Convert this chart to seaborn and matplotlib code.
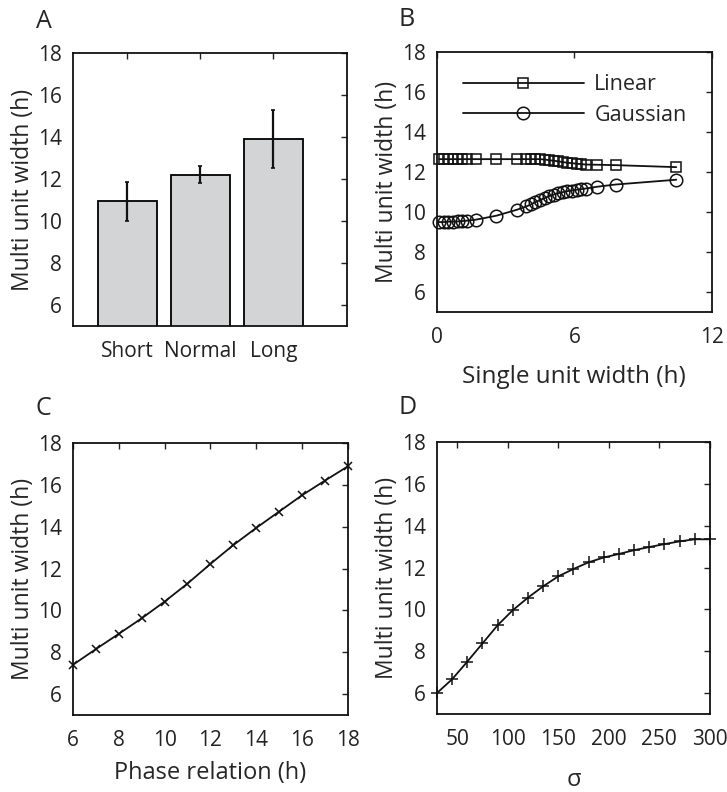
import numpy as np
import pandas as pd
import matplotlib
matplotlib.use('Agg')
import matplotlib.pyplot as plt
import seaborn as sns

# ---- data ----
# A: bar means with error
conditions = ['Short', 'Normal', 'Long']
bar_means = [10.95, 12.2, 13.9]
bar_err = [0.93, 0.41, 1.39]

# B: single unit width vs multi unit width
single_width = [0.1, 0.3, 0.5, 0.7, 0.9, 1.1, 1.3, 1.7, 2.6, 3.5, 3.9, 4.1, 4.3,
                4.5, 4.7, 4.9, 5.1, 5.3, 5.5, 5.7, 5.9, 6.1, 6.3, 6.5, 7.0, 7.8, 10.45]
linear_mu = [12.65, 12.65, 12.65, 12.65, 12.65, 12.65, 12.65, 12.65, 12.65, 12.65, 12.65,
             12.65, 12.65, 12.65, 12.63, 12.6, 12.57, 12.54, 12.5, 12.47, 12.45, 12.42,
             12.4, 12.38, 12.37, 12.35, 12.25]
gaussian_mu = [9.5, 9.5, 9.52, 9.52, 9.53, 9.55, 9.57, 9.62, 9.82, 10.12, 10.28, 10.38, 10.5,
               10.6, 10.7, 10.8, 10.88, 10.95, 11.0, 11.05, 11.08, 11.12, 11.15, 11.18,
               11.27, 11.38, 11.62]

# C: phase relation
phase = [6, 7, 8, 9, 10, 11, 12, 13, 14, 15, 16, 17, 18]
phase_mu = [7.4, 8.15, 8.88, 9.62, 10.42, 11.28, 12.22, 13.12, 13.94, 14.72, 15.5, 16.2, 16.88]

# D: sigma
sigma = [30, 45, 60, 75, 90, 105, 120, 135, 150, 165, 180, 195, 210, 225, 240, 255, 270, 285, 300]
sigma_mu = [6.0, 6.66, 7.5, 8.37, 9.24, 9.96, 10.56, 11.1, 11.58, 11.93, 12.25, 12.48,
            12.65, 12.83, 12.98, 13.12, 13.25, 13.35, 13.35]

sns.set_style('white')
plt.rcParams['font.family'] = ['Open Sans', 'DejaVu Sans']
plt.rcParams['font.size'] = 15

fig = plt.figure(figsize=(7.27, 7.92), dpi=100)
axA = fig.add_axes([0.1004, 0.5884, 0.377, 0.3447])
axB = fig.add_axes([0.601, 0.6061, 0.378, 0.3279])
axC = fig.add_axes([0.1004, 0.0972, 0.378, 0.3435])
axD = fig.add_axes([0.601, 0.0985, 0.3755, 0.3434])

ylab = 'Multi unit width (h)'
ink = '#111111'

# A
dfA = pd.DataFrame({'cond': conditions, 'mu': bar_means})
sns.barplot(data=dfA, x='cond', y='mu', color='#d3d4d6', saturation=1, edgecolor='black',
            linewidth=1.3, errorbar=None, width=0.8, ax=axA)
axA.errorbar(range(len(conditions)), bar_means, yerr=bar_err, fmt='none', ecolor=ink,
             elinewidth=1.6, capsize=1.5, capthick=1.2)
axA.set_xlim(-0.745, 3.01)
axA.set_xlabel('')

# B
line_kw = dict(color=ink, linewidth=1.3, markerfacecolor='none', markeredgecolor=ink,
               markeredgewidth=1.1, clip_on=False)
sns.lineplot(x=single_width, y=linear_mu, marker='s', markersize=7.5, sort=False,
             label='Linear', ax=axB, **line_kw)
sns.lineplot(x=single_width, y=gaussian_mu, marker='o', markersize=9, sort=False,
             label='Gaussian', ax=axB, **line_kw)
axB.set_xlim(0, 12)
axB.set_xticks([0, 6, 12])
axB.set_xlabel('Single unit width (h)', fontsize=17.5, labelpad=12)
axB.legend(loc='upper left', bbox_to_anchor=(0.095, 0.915), frameon=False, handlelength=5.6,
           handletextpad=0.5, labelspacing=0.45, borderpad=0, borderaxespad=0, fontsize=15.5)

# C
sns.lineplot(x=phase, y=phase_mu, marker='x', markersize=6, sort=False, ax=axC, **line_kw)
axC.set_xlim(6, 18)
axC.set_xticks(range(6, 19, 2))
axC.set_xlabel('Phase relation (h)', fontsize=17, labelpad=7)

# D
sns.lineplot(x=sigma, y=sigma_mu, marker='+', markersize=9, sort=False, ax=axD, **line_kw)
axD.set_xlim(30, 300)
axD.set_xticks(range(50, 301, 50))
axD.set_xlabel('σ', fontsize=17, labelpad=13)

for ax, letter in zip([axA, axB, axC, axD], 'ABCD'):
    ax.set_ylim(5, 18)
    ax.set_yticks(range(6, 19, 2))
    ax.set_ylabel(ylab, fontsize=16.5, labelpad=2)
    ax.tick_params(direction='in', length=4, width=1, top=True, right=True,
                   labelsize=15, colors='#222222')
    ax.tick_params(axis='x', pad=11)
    ax.tick_params(axis='y', pad=8)
    for s in ax.spines.values():
        s.set_linewidth(1.3)
        s.set_color(ink)
        s.set_visible(True)

fig.text(0.061, 0.973, 'A', fontsize=18, ha='center', va='center')
fig.text(0.560, 0.975, 'B', fontsize=18, ha='center', va='center')
fig.text(0.059, 0.484, 'C', fontsize=18, ha='center', va='center')
fig.text(0.560, 0.486, 'D', fontsize=18, ha='center', va='center')

fig.savefig('out.png', dpi=100)
